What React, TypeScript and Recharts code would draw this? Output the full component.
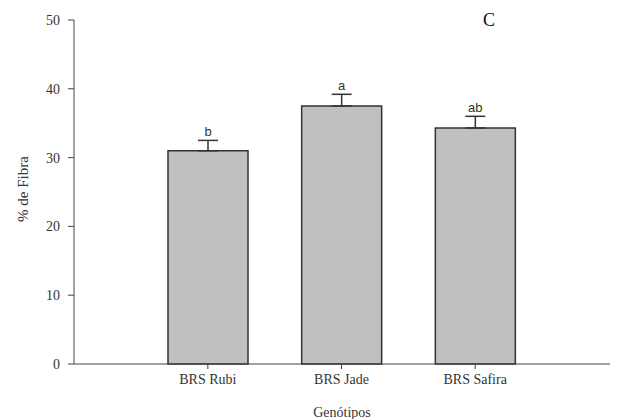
import { BarChart, Bar, XAxis, YAxis, ErrorBar, LabelList } from 'recharts'

const genotypes = ['BRS Rubi', 'BRS Jade', 'BRS Safira']
const fibra = [31.0, 37.5, 34.3]
const fibraErr = [1.5, 1.7, 1.7]
const letters = ['b', 'a', 'ab']
const yTicks = [0, 10, 20, 30, 40, 50]

const chartData = genotypes.map((name, i) => ({
  name,
  value: fibra[i],
  err: [0, fibraErr[i]],
  letter: letters[i],
}))

const serif = '"Liberation Serif", "DejaVu Serif", serif'
const sans = '"Liberation Sans", Arial, sans-serif'

// letter sits just above the error bar cap
function LetterLabel(props: any) {
  const { x, y, width, height, value, index } = props
  const pxPerUnit = height / fibra[index]
  const top = y - fibraErr[index] * pxPerUnit
  return (
    <text
      x={x + width / 2}
      y={top - 4}
      textAnchor="middle"
      fontFamily={sans}
      fontSize={13}
      fill="#333"
    >
      {value}
    </text>
  )
}

export default function App() {
  return (
    <div style={{ position: 'absolute', left: 0, top: 0, width: 625, height: 419, background: '#fff' }}>
      <BarChart
        width={625}
        height={419}
        data={chartData}
        margin={{ top: 20, right: 15, left: 0, bottom: 0 }}
        barSize={80}
      >
        <XAxis
          dataKey="name"
          height={55}
          padding={{ left: 67, right: 68 }}
          stroke="#444"
          tickSize={5}
          tick={{ fontFamily: serif, fontSize: 14, fill: '#333' }}
          tickMargin={5}
        />
        <YAxis
          width={74}
          domain={[0, 50]}
          ticks={yTicks}
          interval={0}
          stroke="#444"
          tickSize={6}
          tickMargin={8}
          tick={{ fontFamily: serif, fontSize: 14, fill: '#333' }}
        />
        <Bar dataKey="value" fill="#c0c0c0" stroke="#333" strokeWidth={1.5} isAnimationActive={false}>
          <ErrorBar dataKey="err" width={10} stroke="#333" strokeWidth={1.5} direction="y" />
          <LabelList dataKey="letter" content={<LetterLabel />} />
        </Bar>
        <text
          x={23}
          y={189}
          transform="rotate(-90 23 189)"
          textAnchor="middle"
          dominantBaseline="central"
          fontFamily={serif}
          fontSize={15}
          fill="#333"
        >
          % de Fibra
        </text>
        <text x={342} y={412} textAnchor="middle" dominantBaseline="central" fontFamily={serif} fontSize={14} fill="#333">
          Genótipos
        </text>
        <text x={489} y={26} textAnchor="middle" fontFamily={serif} fontSize={18} fill="#111">
          C
        </text>
      </BarChart>
    </div>
  )
}
